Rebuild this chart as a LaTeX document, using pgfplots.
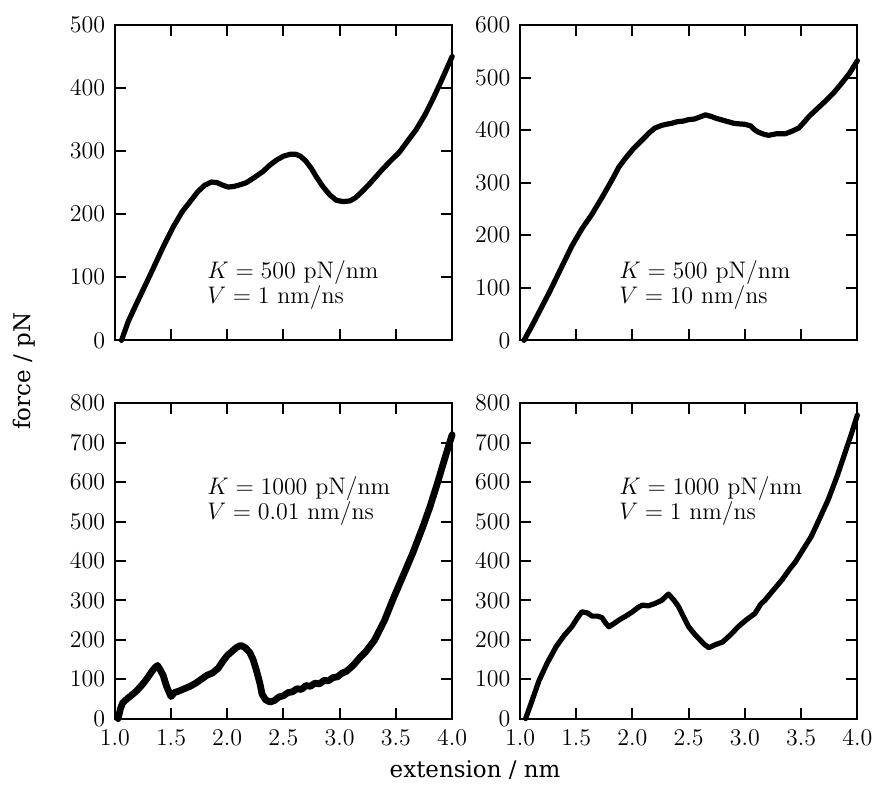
\documentclass[border=0pt]{standalone}
\usepackage{fontspec}
\usepackage{pgfplots}
\pgfplotsset{compat=1.18}
\usepgfplotslibrary{groupplots}
\usetikzlibrary{calc}
\newfontfamily\labelfont{DejaVu Serif}
\begin{document}
\begin{tikzpicture}
\tikzset{
  curve/.style={black, line width=2.6pt, line join=round, line cap=round},
  note/.style={anchor=west, align=left, inner sep=0pt, font=\fontsize{12}{12.5}\selectfont},
}
\pgfplotsset{
  every axis/.append style={
    scale only axis, width=169pt, height=158pt,
    xmin=1, xmax=4, xtick={1,1.5,2,2.5,3,3.5,4},
    tick align=inside, xtick pos=both, ytick pos=both,
    major tick length=5.5pt,
    every tick/.style={black, line width=1pt},
    axis line style={line width=1.1pt},
    tick label style={font=\fontsize{12.5}{14}\selectfont},
    xticklabel style={yshift=-2.2pt, /pgf/number format/.cd, fixed, fixed zerofill, precision=1},
    yticklabel style={xshift=-1.3pt},
    clip=false,
  },
}
\begin{groupplot}[group style={group size=2 by 2, horizontal sep=34pt, vertical sep=31.5pt}]
\nextgroupplot[ymin=0, ymax=500, ytick={0,100,...,500}, xticklabels={}]
\addplot[curve, no marks] coordinates {
(1.06,0) (1.12,30) (1.19,57) (1.31,102) (1.43,148) (1.52,180) (1.60,204) (1.67,220)
(1.74,236) (1.80,246) (1.86,251) (1.91,250) (1.96,246) (2.01,243) (2.06,244) (2.12,247)
(2.17,250) (2.24,258) (2.32,268) (2.38,278) (2.44,286) (2.50,292) (2.56,295) (2.61,295)
(2.65,292) (2.70,284) (2.75,272) (2.79,260) (2.85,244) (2.91,231) (2.97,222) (3.03,220)
(3.09,221) (3.14,226) (3.20,236) (3.26,247) (3.32,259) (3.38,271) (3.45,284) (3.53,298)
(3.60,315) (3.68,334) (3.76,358) (3.83,383) (3.89,406) (3.95,430) (4.00,450)
};
\node[note] at (axis cs:1.82,88) {$K = 500$ pN/nm\\$V = 1$ nm/ns};

\nextgroupplot[ymin=0, ymax=600, ytick={0,100,...,600}, xticklabels={}]
\addplot[curve, no marks] coordinates {
(1.035,0) (1.10,25) (1.18,58) (1.26,91) (1.36,135) (1.46,179) (1.55,212) (1.64,240)
(1.73,272) (1.82,306) (1.88,330) (1.94,347) (2.01,365) (2.09,382) (2.15,395) (2.20,404)
(2.26,409) (2.30,411) (2.35,413) (2.40,416) (2.45,417) (2.50,420) (2.55,421) (2.60,425)
(2.65,429) (2.70,426) (2.75,422) (2.80,419) (2.85,416) (2.90,413) (2.94,412) (3.00,411)
(3.05,408) (3.09,400) (3.12,396) (3.17,392) (3.21,390) (3.28,393) (3.36,393) (3.42,398)
(3.48,404) (3.53,416) (3.57,426) (3.64,440) (3.71,454) (3.79,471) (3.86,489) (3.93,508)
(4.00,532)
};
\node[note] at (axis cs:1.88,105) {$K = 500$ pN/nm\\$V = 10$ nm/ns};

\nextgroupplot[ymin=0, ymax=800, ytick={0,100,...,800}]
\addplot[curve, no marks, line width=3.4pt] coordinates {
(1.03,0) (1.05,25) (1.07,40) (1.10,48) (1.13,55) (1.16,62) (1.20,72) (1.25,88)
(1.29,103) (1.33,120) (1.36,130) (1.38,135) (1.40,126) (1.43,110) (1.46,82) (1.50,56)
(1.53,66) (1.57,70) (1.62,76) (1.67,82) (1.72,90) (1.77,100) (1.82,110) (1.87,116)
(1.92,128) (1.96,145) (2.00,160) (2.04,170) (2.08,180) (2.12,186) (2.16,180) (2.20,168)
(2.23,150) (2.26,122) (2.29,90) (2.31,62) (2.34,48) (2.38,42) (2.42,46) (2.46,55)
(2.50,58) (2.54,66) (2.58,68) (2.62,76) (2.66,74) (2.70,84) (2.74,82) (2.78,90)
(2.82,88) (2.86,97) (2.90,96) (2.94,104) (2.98,106) (3.02,115) (3.06,120) (3.12,135)
(3.18,155) (3.23,169) (3.31,199) (3.40,250) (3.47,300) (3.56,360) (3.65,420) (3.74,487)
(3.80,535) (3.87,598) (3.94,665) (4.00,720)
};
\node[note] at (axis cs:1.82,553) {$K = 1000$ pN/nm\\$V = 0.01$ nm/ns};

\nextgroupplot[ymin=0, ymax=800, ytick={0,100,...,800}]
\addplot[curve, no marks] coordinates {
(1.05,0) (1.10,40) (1.17,97) (1.24,140) (1.32,182) (1.39,210) (1.46,233) (1.51,255)
(1.55,271) (1.60,268) (1.64,260) (1.69,260) (1.73,256) (1.76,243) (1.79,233) (1.83,240)
(1.88,250) (1.94,260) (2.00,271) (2.05,282) (2.09,288) (2.14,286) (2.20,292) (2.26,300)
(2.32,316) (2.37,300) (2.41,284) (2.46,255) (2.50,233) (2.55,215) (2.59,203) (2.64,188)
(2.68,180) (2.74,188) (2.80,194) (2.87,212) (2.94,233) (3.01,250) (3.09,267) (3.14,290)
(3.18,301) (3.25,325) (3.33,352) (3.40,380) (3.45,398) (3.52,430) (3.59,462) (3.66,505)
(3.74,555) (3.82,615) (3.89,674) (3.95,725) (4.00,770)
};
\node[note] at (axis cs:1.88,553) {$K = 1000$ pN/nm\\$V = 1$ nm/ns};
\end{groupplot}
\path ($(group c1r1.north west)+(-57.5pt,12.5pt)$) rectangle ($(group c1r1.north west)+(382pt,-381pt)$);
\node[rotate=90, font=\labelfont\fontsize{11.5}{13}\selectfont] at ($(group c1r1.north west)+(-45.5pt,-173.5pt)$) {force / pN};
\node[anchor=base, font=\labelfont\fontsize{11.5}{13}\selectfont] at ($(group c1r1.north west)+(180.5pt,-377pt)$) {extension / nm};
\end{tikzpicture}
\end{document}
